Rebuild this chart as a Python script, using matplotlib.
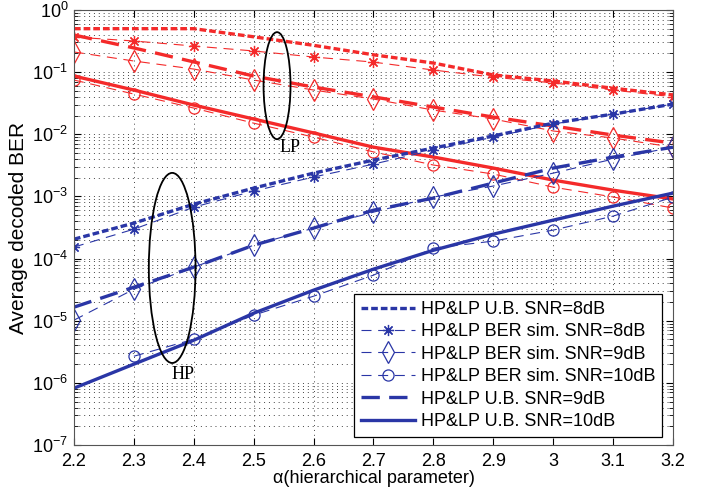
import numpy as np
import matplotlib
matplotlib.use('Agg')
import matplotlib.pyplot as plt
from matplotlib.patches import Ellipse
from matplotlib.ticker import LogLocator, NullFormatter, LogFormatterSciNotation

plt.rcParams['font.family'] = ['Liberation Sans', 'DejaVu Sans']
plt.rcParams['mathtext.fontset'] = 'custom'
plt.rcParams['mathtext.rm'] = 'Liberation Sans'
plt.rcParams['mathtext.it'] = 'Liberation Sans:italic'

# alpha (hierarchical parameter)
alpha = [2.2, 2.3, 2.4, 2.5, 2.6, 2.7, 2.8, 2.9, 3.0, 3.1, 3.2]

# LP (red) curves
lp_ub_8 = [0.5, 0.5, 0.5, 0.37, 0.27, 0.19, 0.14, 0.090, 0.072, 0.055, 0.043]
lp_sim_8 = [0.367, 0.317, 0.263, 0.219, 0.175, 0.145, 0.108, 0.083, 0.067, 0.0515, 0.040]
lp_ub_9 = [0.396, 0.245, 0.146, 0.0865, 0.0575, 0.040, 0.0274, 0.0189, 0.0136, 0.0097, 0.0072]
lp_sim_9 = [0.211, 0.151, 0.112, 0.0746, 0.0515, 0.0369, 0.0245, 0.0176, 0.0113, 0.0087, 0.0062]
lp_ub_10 = [0.0865, 0.0515, 0.0295, 0.0176, 0.0105, 0.0062, 0.0043, 0.00286, 0.00183, 0.00126, 0.00091]
lp_sim_10 = [0.0746, 0.0444, 0.0264, 0.0151, 0.0090, 0.0052, 0.0032, 0.00229, 0.00141, 0.00098, 0.00065]

# HP (blue) curves
hp_ub_8 = [2.05e-4, 3.72e-4, 7.5e-4, 1.36e-3, 2.37e-3, 3.84e-3, 6.0e-3, 9.4e-3, 0.0151, 0.0211, 0.0306]
hp_sim_8 = [1.53e-4, 2.97e-4, 6.72e-4, 1.22e-3, 2.05e-3, 3.31e-3, 5.57e-3, 9.0e-3, 0.0146, 0.0211, 0.0306]
hp_ub_9 = [1.65e-5, 3.46e-5, 7.27e-5, 1.64e-4, 3.09e-4, 6.0e-4, 9.4e-4, 1.64e-3, 2.86e-3, 4.29e-3, 6.2e-3]
hp_sim_9 = [1.02e-5, 3.21e-5, 7.27e-5, 1.64e-4, 3.09e-4, 5.58e-4, 9.75e-4, 1.47e-3, 2.37e-3, 3.99e-3, 6.2e-3]
hp_ub_10 = [8.2e-7, 2.0e-6, 4.85e-6, 1.32e-5, 3.1e-5, 6.75e-5, 1.36e-4, 2.47e-4, 4.15e-4, 6.98e-4, 1.13e-3]
hp_sim_10 = [np.nan, 2.68e-6, 5.03e-6, 1.23e-5, 2.48e-5, 5.41e-5, 1.47e-4, 1.91e-4, 2.87e-4, 4.82e-4, 9.75e-4]

y_ticks = [1e-7, 1e-6, 1e-5, 1e-4, 1e-3, 1e-2, 1e-1, 1e0]

labels = ['HP&LP U.B. SNR=8dB', 'HP&LP BER sim. SNR=8dB', 'HP&LP BER sim. SNR=9dB',
          'HP&LP BER sim. SNR=10dB', 'HP&LP U.B. SNR=9dB', 'HP&LP U.B. SNR=10dB']

red = '#f42a2a'
blue = '#2a36a6'

fig = plt.figure(figsize=(7.11, 4.94), dpi=100)
ax = fig.add_axes([0.104, 0.0992, 0.8426, 0.8806])

star = (8, 2, 0)

def draw(color, ub8, sim8, sim9, sim10, ub9, ub10, use_labels):
    lab = labels if use_labels else [None] * 6
    ax.plot(alpha, ub8, color=color, lw=2.4, dashes=(2.0, 0.9), label=lab[0])
    ax.plot(alpha, sim8, color=color, lw=0.8, dashes=(9, 6), marker=star,
            ms=8, mew=0.9, label=lab[1])
    ax.plot(alpha, sim9, color=color, lw=0.8, dashes=(9, 6), marker='d',
            ms=11, mew=0.9, mfc='none', label=lab[2])
    ax.plot(alpha, sim10, color=color, lw=0.8, dashes=(9, 6), marker='o',
            ms=8, mew=0.9, mfc='none', label=lab[3])
    ax.plot(alpha, ub9, color=color, lw=2.4, dashes=(5.5, 2.8), label=lab[4])
    ax.plot(alpha, ub10, color=color, lw=2.4, label=lab[5])

draw(red, lp_ub_8, lp_sim_8, lp_sim_9, lp_sim_10, lp_ub_9, lp_ub_10, False)
draw(blue, hp_ub_8, hp_sim_8, hp_sim_9, hp_sim_10, hp_ub_9, hp_ub_10, True)

ax.set_yscale('log')
ax.set_xlim(2.2, 3.2)
ax.set_ylim(1e-7, 1)
ax.set_xticks(alpha)
ax.set_xticklabels(['2.2', '2.3', '2.4', '2.5', '2.6', '2.7', '2.8', '2.9', '3', '3.1', '3.2'])
ax.set_yticks(y_ticks)
ax.yaxis.set_major_formatter(LogFormatterSciNotation())
ax.yaxis.set_minor_locator(LogLocator(base=10, subs=np.arange(2, 10), numticks=20))
ax.yaxis.set_minor_formatter(NullFormatter())

ax.tick_params(which='both', direction='in', top=True, right=True, labelsize=13)
ax.tick_params(which='major', length=5)
ax.tick_params(which='minor', length=3)
ax.tick_params(axis='x', pad=6)
ax.tick_params(axis='y', pad=4)
ax.grid(True, which='major', axis='both', color='#444444', lw=0.7, linestyle=(0, (1, 4)))
ax.grid(True, which='minor', axis='y', color='#444444', lw=0.7, linestyle=(0, (1, 4)))
for s in ax.spines.values():
    s.set_color('#555555')

ax.set_xlabel('α(hierarchical parameter)', fontsize=13, labelpad=0)
ax.set_ylabel('Average decoded BER', fontsize=15, labelpad=3)

# LP / HP grouping ellipses
ax.add_patch(Ellipse((0.339, 0.826), 0.045, 0.246, transform=ax.transAxes,
                     fill=False, ec='black', lw=1.3, zorder=5))
ax.add_patch(Ellipse((0.164, 0.407), 0.078, 0.437, transform=ax.transAxes,
                     fill=False, ec='black', lw=1.3, zorder=5))
ax.text(0.36, 0.683, 'LP', transform=ax.transAxes, family='Liberation Serif',
        fontsize=13, ha='center', va='center')
ax.text(0.182, 0.163, 'HP', transform=ax.transAxes, family='Liberation Serif',
        fontsize=13, ha='center', va='center')

leg = ax.legend(loc='lower right', bbox_to_anchor=(0.982, 0.018), borderaxespad=0,
                fontsize=13, frameon=True, fancybox=False, edgecolor='black',
                framealpha=1, numpoints=1, handlelength=3.0, labelspacing=0.3,
                handletextpad=0.3, borderpad=0.4)
leg.get_frame().set_linewidth(0.9)

fig.savefig('out.png', dpi=100)
